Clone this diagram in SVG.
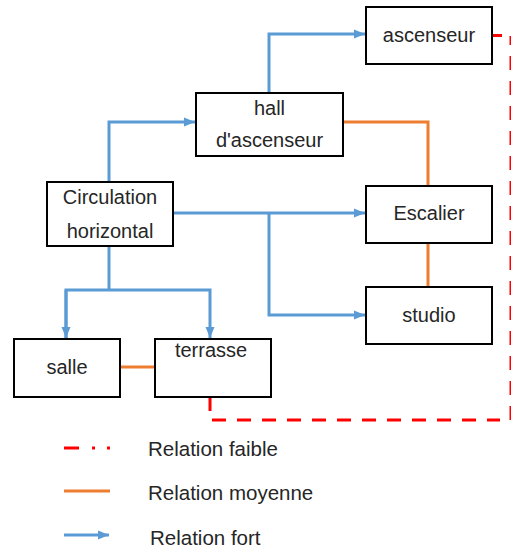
<svg xmlns="http://www.w3.org/2000/svg" width="511" height="551" viewBox="0 0 511 551">
<style>
.box{fill:#fff;stroke:#000;stroke-width:2}
.t{font-family:"Liberation Sans",Arial,sans-serif;font-size:20px;fill:#262626;text-anchor:middle}
.lg{font-family:"Liberation Sans",Arial,sans-serif;font-size:20.5px;fill:#262626}
.fort{fill:none;stroke:#5B9BD5;stroke-width:3}
.moy{fill:none;stroke:#ED7D31;stroke-width:3}
.faible{fill:none;stroke:#FF0000;stroke-width:3;stroke-dasharray:14 11}
</style>
<defs>
<marker id="ah" markerUnits="userSpaceOnUse" markerWidth="12" markerHeight="12" viewBox="0 0 12 12" refX="11" refY="6" orient="auto">
<path d="M0,1.5 L11,6 L0,10.5 Z" fill="#5B9BD5"/>
</marker>
</defs>
<g id="connectors">
<path class="fort" d="M269,93 V34 H365" marker-end="url(#ah)"/>
<path class="fort" d="M109,182 V122 H195" marker-end="url(#ah)"/>
<path class="fort" d="M173,213 H365" marker-end="url(#ah)"/>
<path class="fort" d="M269,213 V315 H365" marker-end="url(#ah)"/>
<path class="fort" d="M109,246 V290"/>
<path class="fort" d="M66,338 V290 H210 V338" marker-end="url(#ah)"/>
<path class="fort" d="M66,290 V338" marker-end="url(#ah)"/>
<path class="moy" d="M343,122 H428 V186"/>
<path class="moy" d="M428,243 V287"/>
<path class="moy" d="M120,367 H155"/>
<path class="faible" d="M210,397 V420 H500"/>
<path class="faible" d="M511,420 V36"/>
<path d="M492,35.5 H502" stroke="#FF0000" stroke-width="3"/>
</g>
<g id="ascenseur"><rect class="box" x="366" y="7" width="126" height="57"/><text class="t" x="429" y="42">ascenseur</text></g>
<g id="hall"><rect class="box" x="196" y="93" width="147" height="63"/><text class="t" x="269.5" y="115">hall</text><text class="t" x="269.5" y="147">d'ascenseur</text></g>
<g id="circulation"><rect class="box" x="47" y="182" width="126" height="64"/><text class="t" x="110" y="204">Circulation</text><text class="t" x="110" y="238">horizontal</text></g>
<g id="escalier"><rect class="box" x="366" y="186" width="126" height="57"/><text class="t" x="429" y="220">Escalier</text></g>
<g id="studio"><rect class="box" x="366" y="287" width="126" height="57"/><text class="t" x="429" y="322">studio</text></g>
<g id="salle"><rect class="box" x="14" y="339" width="106" height="58"/><text class="t" x="67" y="374">salle</text></g>
<g id="terrasse"><rect class="box" x="155" y="339" width="116" height="58"/><text class="t" x="211" y="357">terrasse</text></g>
<g id="legend">
<path d="M64,448 H79 M92,448 H95 M107,448 H110" stroke="#FF0000" stroke-width="3"/>
<text class="lg" x="148" y="456">Relation faible</text>
<path d="M64,491 H110" stroke="#ED7D31" stroke-width="3"/>
<text class="lg" x="148" y="500">Relation moyenne</text>
<path class="fort" d="M64,535 H109" marker-end="url(#ah)"/>
<text class="lg" x="150" y="545">Relation fort</text>
</g>
</svg>
